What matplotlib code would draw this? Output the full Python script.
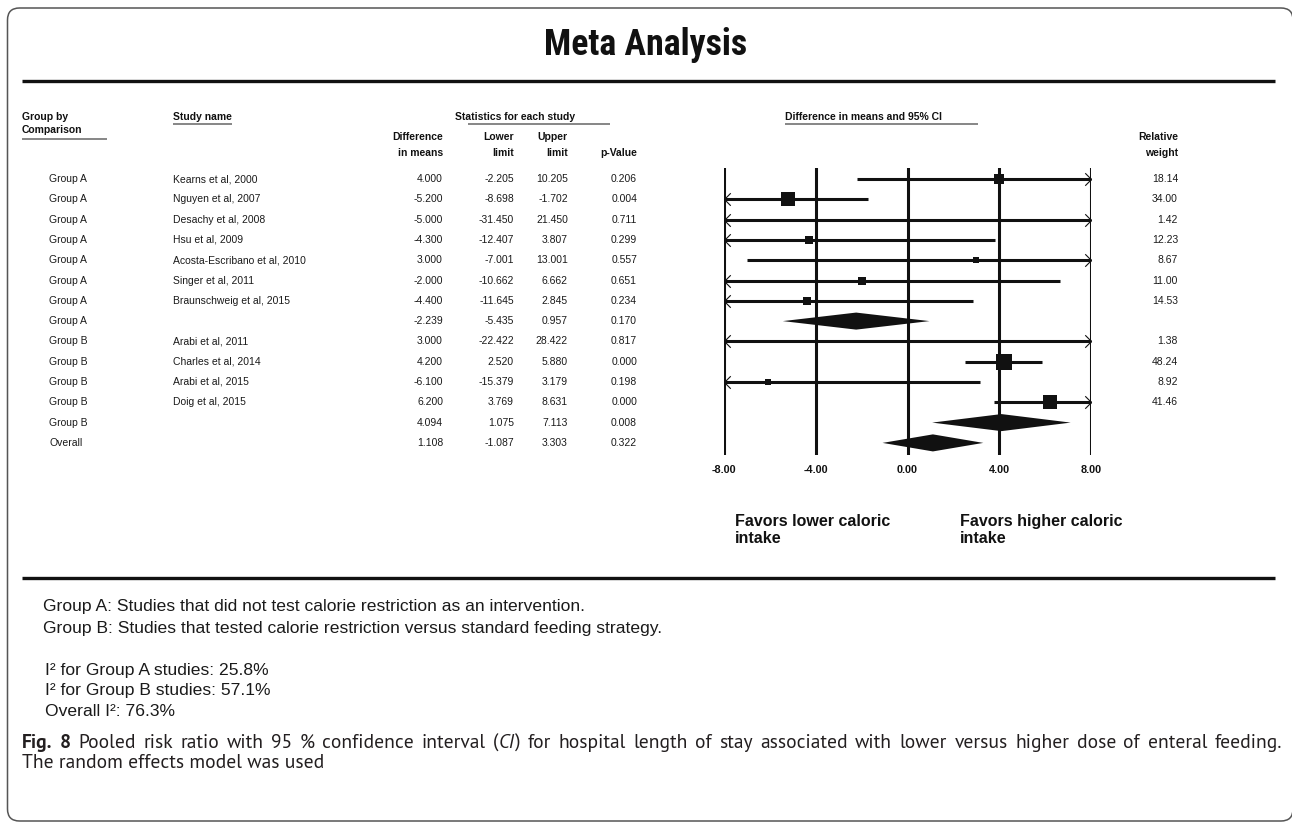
import matplotlib
matplotlib.use("Agg")
import matplotlib.pyplot as plt
from matplotlib import font_manager as fm
from matplotlib.font_manager import FontProperties
from matplotlib.patches import FancyBboxPatch
from matplotlib.path import Path
from matplotlib.transforms import blended_transform_factory

# ---- study data -------------------------------------------------------------
groups = ["Group A"] * 8 + ["Group B"] * 5 + ["Overall"]
studies = ["Kearns et al, 2000", "Nguyen et al, 2007", "Desachy et al, 2008",
           "Hsu et al, 2009", "Acosta-Escribano et al, 2010", "Singer et al, 2011",
           "Braunschweig et al, 2015", "", "Arabi et al, 2011", "Charles et al, 2014",
           "Arabi et al, 2015", "Doig et al, 2015", "", ""]
diff = [4.000, -5.200, -5.000, -4.300, 3.000, -2.000, -4.400, -2.239,
        3.000, 4.200, -6.100, 6.200, 4.094, 1.108]
lower = [-2.205, -8.698, -31.450, -12.407, -7.001, -10.662, -11.645, -5.435,
         -22.422, 2.520, -15.379, 3.769, 1.075, -1.087]
upper = [10.205, -1.702, 21.450, 3.807, 13.001, 6.662, 2.845, 0.957,
         28.422, 5.880, 3.179, 8.631, 7.113, 3.303]
pvals = [0.206, 0.004, 0.711, 0.299, 0.557, 0.651, 0.234, 0.170,
         0.817, 0.000, 0.198, 0.000, 0.008, 0.322]
weights = [18.14, 34.00, 1.42, 12.23, 8.67, 11.00, 14.53, None,
           1.38, 48.24, 8.92, 41.46, None, None]
pooled = [False] * 7 + [True] + [False] * 4 + [True, True]
axis_ticks = [-8.0, -4.0, 0.0, 4.0, 8.0]
favor_labels = ["Favors lower caloric\nintake", "Favors higher caloric\nintake"]
notes = ["Group A: Studies that did not test calorie restriction as an intervention.",
         "Group B: Studies that tested calorie restriction versus standard feeding strategy."]
i2_notes = ["I\u00b2 for Group A studies: 25.8%",
            "I\u00b2 for Group B studies: 57.1%",
            "Overall I\u00b2: 76.3%"]
caption_1 = ("Pooled risk ratio with 95 % confidence interval (CI) for hospital length "
             "of stay associated with lower versus higher dose of enteral feeding.")
caption_2 = "The random effects model was used"


# ---- fonts: pick static font files so the requested weight is really used -------
def _wnum(f):
    w = f.weight
    return w if isinstance(w, int) else fm.weight_dict.get(w, 400)


def face(names, weight=400, style="normal", fallback="Liberation Sans"):
    for n in names:
        cands = [f for f in fm.fontManager.ttflist
                 if f.name == n and "[" not in f.fname and f.style == style]
        if not cands:
            continue
        best = min(cands, key=lambda f: abs(_wnum(f) - weight))
        if abs(_wnum(best) - weight) <= 100:
            return FontProperties(fname=best.fname)
    return FontProperties(family=[fallback, "DejaVu Sans"],
                          weight="bold" if weight >= 600 else "normal", style=style)


TITLE_FACE = face(["Liberation Sans Narrow", "Roboto Condensed", "IBM Plex Sans Condensed",
                   "Fira Sans Condensed", "PT Sans Narrow", "Archivo Narrow",
                   "Asap Condensed", "Barlow Semi Condensed"], 700)
CAP_NAMES = ["Source Sans Pro", "Source Sans 3", "PT Sans", "Open Sans"]
CAP_REG = face(CAP_NAMES, 400)
CAP_BOLD = face(CAP_NAMES, 700)
CAP_ITAL = face(CAP_NAMES, 400, "italic")
SANS = ["Liberation Sans", "DejaVu Sans"]

# ---- page setup -------------------------------------------------------------
W, H = 1292, 827
INK = "#111111"

fig = plt.figure(figsize=(W / 100, H / 100), dpi=100)
page = fig.add_axes([0, 0, 1, 1])
page.set_xlim(0, W)
page.set_ylim(H, 0)
page.axis("off")
renderer = fig.canvas.get_renderer()


def width_px(artist):
    return artist.get_window_extent(renderer).width


# rounded outer frame
page.add_patch(FancyBboxPatch((7.5, 8), W - 6.5, 813,
                              boxstyle="round,pad=0,rounding_size=12",
                              fc="none", ec="#555555", lw=1.1))

title = page.text(646, 45, "Meta Analysis", ha="center", va="center",
                  fontproperties=TITLE_FACE.copy(), color=INK)
title.set_fontsize(27)
title.set_fontsize(27 * 204 / width_px(title))

for yy in (81, 578):
    page.plot([22, 1275], [yy, yy], color=INK, lw=2.4, solid_capstyle="butt")

# ---- forest panel -------------------------------------------------------------
row0, drow = 179.0, 20.3
x_lo_px, x_hi_px = 724.0, 1091.0
top_px, bot_px = 168.0, 455.0
ax = fig.add_axes([x_lo_px / W, 1 - bot_px / H, (x_hi_px - x_lo_px) / W,
                   (bot_px - top_px) / H])
ax.set_xlim(axis_ticks[0], axis_ticks[-1])
ax.set_ylim((bot_px - row0) / drow, (top_px - row0) / drow)
ax.axis("off")
ax.patch.set_alpha(0)

for t in axis_ticks:
    ax.axvline(t, color=INK, lw=2.2)
    ax.text(t, (470 - row0) / drow, f"{t:.2f}", ha="center", va="center",
            fontsize=7.8, fontweight="bold", family=SANS, color=INK, clip_on=False)

left_head = Path([(1, 1), (0, 0), (1, -1)], [Path.MOVETO, Path.LINETO, Path.LINETO])
right_head = Path([(-1, 1), (0, 0), (-1, -1)], [Path.MOVETO, Path.LINETO, Path.LINETO])
xmin, xmax = axis_ticks[0], axis_ticks[-1]
diamond_half = 0.42

for i in range(len(diff)):
    if pooled[i]:
        ax.fill([lower[i], diff[i], upper[i], diff[i]],
                [i, i - diamond_half, i, i + diamond_half],
                color=INK, lw=0, clip_on=False)
        continue
    lo, hi = max(lower[i], xmin), min(upper[i], xmax)
    ax.plot([lo, hi], [i, i], color=INK, lw=2.2, solid_capstyle="butt", clip_on=False)
    if lower[i] < xmin:
        ax.plot(xmin, i, marker=left_head, ms=9, mfc="none", mec=INK, mew=0.8,
                clip_on=False)
    if upper[i] > xmax:
        ax.plot(xmax, i, marker=right_head, ms=9, mfc="none", mec=INK, mew=0.8,
                clip_on=False)
    side_px = 2.3 * weights[i] ** 0.5
    ax.plot(diff[i], i, marker="s", ms=side_px * 0.72, mfc=INK, mec=INK, mew=0,
            clip_on=False)

fav = dict(fontsize=11.5, fontweight="bold", family=SANS, color=INK,
           ha="left", va="center", linespacing=1.1, clip_on=False)
fav_y = (530 - row0) / drow
ax.text(xmin + 11 / 22.94, fav_y, favor_labels[0], **fav)
ax.text(xmin + 236 / 22.94, fav_y, favor_labels[1], **fav)

# ---- table columns ------------------------------------------------------------
rows = blended_transform_factory(page.transData, ax.transData)
cell = dict(fontsize=7.5, family=SANS, color="#1a1a1a", va="center",
            transform=rows, clip_on=False)
for i in range(len(diff)):
    page.text(49, i, groups[i], ha="left", **cell)
    page.text(173, i, studies[i], ha="left", **cell)
    page.text(443, i, f"{diff[i]:.3f}", ha="right", **cell)
    page.text(514, i, f"{lower[i]:.3f}", ha="right", **cell)
    page.text(568, i, f"{upper[i]:.3f}", ha="right", **cell)
    page.text(637, i, f"{pvals[i]:.3f}", ha="right", **cell)
    if weights[i] is not None:
        page.text(1178, i, f"{weights[i]:.2f}", ha="right", **cell)

head = dict(fontsize=7.5, fontweight="bold", family=SANS, color=INK, va="center")
page.text(22, 117, "Group by", ha="left", **head)
page.text(22, 130, "Comparison", ha="left", **head)
page.text(173, 117, "Study name", ha="left", **head)
page.text(455, 117, "Statistics for each study", ha="left", **head)
page.text(785, 117, "Difference in means and 95% CI", ha="left", **head)
page.text(443, 137, "Difference", ha="right", **head)
page.text(443, 153, "in means", ha="right", **head)
page.text(514, 137, "Lower", ha="right", **head)
page.text(514, 153, "limit", ha="right", **head)
page.text(568, 137, "Upper", ha="right", **head)
page.text(568, 153, "limit", ha="right", **head)
page.text(637, 153, "p-Value", ha="right", **head)
page.text(1178, 137, "Relative", ha="right", **head)
page.text(1178, 153, "weight", ha="right", **head)

for (x0, x1, yy) in [(173, 232, 124), (468, 610, 124), (785, 978, 124), (22, 107, 139)]:
    page.plot([x0, x1], [yy, yy], color="#666666", lw=1.1, solid_capstyle="butt")

# ---- notes ----------------------------------------------------------------------
note = dict(fontsize=12.6, family=SANS, color="#1a1a1a", va="center", ha="left")
for k, line in enumerate(notes):
    page.text(43, 607 + 21 * k, line, **note)
for k, line in enumerate(i2_notes):
    page.text(45, 670 + 21 * k, line, **note)

# ---- caption (first line justified between the margins) -------------------------
cap = dict(color="#231f20", va="center", ha="left")
probe = page.text(22, 763, caption_2, fontproperties=CAP_REG.copy(), **cap)
probe.set_fontsize(10)
cap_size = 10 * 300 / width_px(probe)
probe.set_fontsize(cap_size)

faces = {"r": CAP_REG, "b": CAP_BOLD, "i": CAP_ITAL}
words = [[("Fig.", "b")], [("8", "b")]]
for w in caption_1.split(" "):
    if w == "(CI)":
        words.append([("(", "r"), ("CI", "i"), (")", "r")])
    else:
        words.append([(w, "r")])

placed = []
for w in words:
    parts = []
    for s, k in w:
        fp = faces[k].copy()
        fp.set_size(cap_size)
        parts.append(page.text(0, 743, s, fontproperties=fp, **cap))
    placed.append((parts, [width_px(p) for p in parts]))
total = sum(sum(ws) for _, ws in placed)
gap = (1282 - 22 - total) / (len(placed) - 1)
x = 22.0
for parts, ws in placed:
    for p, wpx in zip(parts, ws):
        p.set_x(x)
        x += wpx
    x += gap

fig.savefig("out.png", dpi=100)
